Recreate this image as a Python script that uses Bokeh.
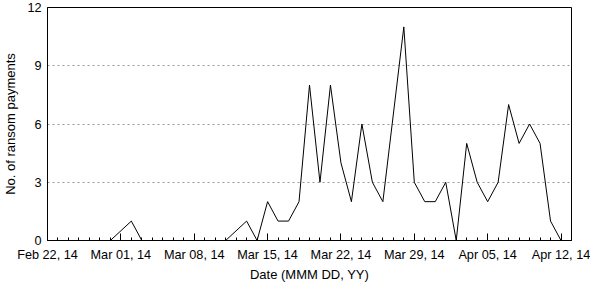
from datetime import datetime
from bokeh.plotting import figure
from bokeh.models import FixedTicker, DatetimeTickFormatter, Range1d
from bokeh.embed import file_html
from bokeh.resources import INLINE

# ---- data ----
dates = ["2014-02-28", "2014-03-02", "2014-03-03", "2014-03-11", "2014-03-13",
         "2014-03-14", "2014-03-15", "2014-03-16", "2014-03-17", "2014-03-18",
         "2014-03-19", "2014-03-20", "2014-03-21", "2014-03-22", "2014-03-23",
         "2014-03-24", "2014-03-25", "2014-03-26", "2014-03-28", "2014-03-29",
         "2014-03-30", "2014-03-31", "2014-04-01", "2014-04-02", "2014-04-03",
         "2014-04-04", "2014-04-05", "2014-04-06", "2014-04-07", "2014-04-08",
         "2014-04-09", "2014-04-10", "2014-04-11", "2014-04-12"]
payments = [0, 1, 0, 0, 1,
            0, 2, 1, 1, 2,
            8, 3, 8, 4, 2,
            6, 3, 2, 11, 3,
            2, 2, 3, 0, 5,
            3, 2, 3, 7, 5,
            6, 5, 1, 0]
x_tick_dates = ["2014-02-22", "2014-03-01", "2014-03-08", "2014-03-15",
                "2014-03-22", "2014-03-29", "2014-04-05", "2014-04-12"]
x_start, x_end = "2014-02-22", "2014-04-13"
y_ticks = [0, 3, 6, 9, 12]
y_grid = [3, 6, 9]


def ms(s):
    d = datetime.strptime(s, "%Y-%m-%d")
    return (d - datetime(1970, 1, 1)).total_seconds() * 1000.0


xs = [datetime.strptime(d, "%Y-%m-%d") for d in dates]
DAY = 86400000.0
minor = [ms(x_start) + i * DAY for i in range(int((ms(x_end) - ms(x_start)) / DAY) + 1)]

FONT = "Liberation Sans"

p = figure(width=590, height=284, x_axis_type="datetime",
           output_backend="svg", toolbar_location=None,
           x_range=Range1d(ms(x_start), ms(x_end)), y_range=Range1d(0, 12),
           min_border_left=41, min_border_right=19, min_border_top=7,
           min_border_bottom=43)

p.line(xs, payments, line_color="black", line_width=1)

p.outline_line_color = "black"
p.outline_line_width = 1
p.outline_line_alpha = 1

# x axis
xa = p.xaxis[0]
xa.ticker = FixedTicker(ticks=[ms(d) for d in x_tick_dates], minor_ticks=minor)
fmt = "%b %d, %y"
xa.formatter = DatetimeTickFormatter(days=fmt, months=fmt, years=fmt, hours=fmt,
                                     hourmin=fmt, minutes=fmt, minsec=fmt,
                                     seconds=fmt, milliseconds=fmt,
                                     microseconds=fmt)
xa.axis_label = "Date (MMM DD, YY)"
xa.major_tick_in = 7
xa.major_tick_out = 0
xa.minor_tick_in = 3
xa.minor_tick_out = 0
xa.major_label_standoff = 7
xa.axis_label_standoff = 2

# y axis
ya = p.yaxis[0]
ya.ticker = FixedTicker(ticks=y_ticks)
ya.axis_label = "No. of ransom payments"
ya.major_tick_in = 0
ya.major_tick_out = 0
ya.minor_tick_in = 0
ya.minor_tick_out = 0
ya.major_label_standoff = 6
ya.axis_label_standoff = 6

for ax in (xa, ya):
    ax.axis_line_color = "black"
    ax.major_tick_line_color = "black"
    ax.minor_tick_line_color = "black"
    ax.major_label_text_font = FONT
    ax.major_label_text_font_size = "12.7px"
    ax.major_label_text_color = "black"
    ax.axis_label_text_font = FONT
    ax.axis_label_text_font_size = "13px"
    ax.axis_label_text_font_style = "normal"
    ax.axis_label_text_color = "black"

p.xgrid.grid_line_color = None
p.ygrid.ticker = FixedTicker(ticks=y_grid)
p.ygrid.grid_line_color = "#999999"
p.ygrid.grid_line_dash = "2 3"
p.ygrid.grid_line_width = 1

open("out.html", "w").write(file_html(p, INLINE))
